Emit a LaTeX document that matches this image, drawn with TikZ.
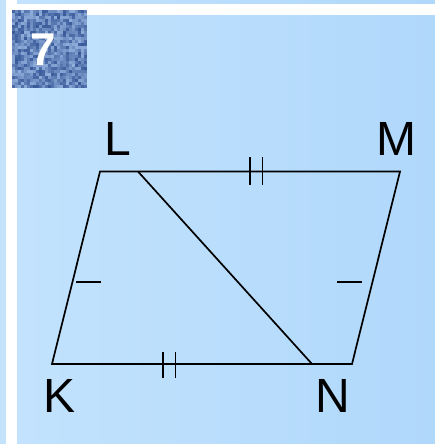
\documentclass[tikz,border=0pt]{standalone}
\usepackage{fontspec}
\setmainfont{Liberation Sans}
\definecolor{bgA}{HTML}{C3E3FD}
\definecolor{bgB}{HTML}{B0D8FB}
\definecolor{texA}{HTML}{2A4C8E}
\definecolor{texB}{HTML}{A9C6EE}
\begin{document}
\begin{tikzpicture}[x=1pt,y=-1pt,
  edge/.style={line width=1.7pt,black},
  tick/.style={line width=1.6pt,black},
  vlabel/.style={font=\fontsize{48}{50}\selectfont,inner sep=0pt,anchor=base west}]
\useasboundingbox (0,0) rectangle (435,444);
% background
\shade[left color=bgA,right color=bgB] (0,0) rectangle (435,444);
\fill[white] (6,0) rectangle (17,444);
\fill[white] (17,4) rectangle (435,15);
% textured number box
\pgfmathsetseed{7}
\foreach \i in {0,...,24}{
  \foreach \j in {0,...,25}{
    \pgfmathsetmacro\p{int(20+70*rnd)}
    \fill[texA!\p!texB] (12+3*\i,10+3*\j) rectangle +(3.05,3.05);
  }
}
\node[font=\fontsize{46}{48}\selectfont\bfseries,text=white,inner sep=0pt,anchor=base] (num) at (43.5,65) {7};
% vertices
\coordinate (K) at (52,364);
\coordinate (L) at (100,171.5);
\coordinate (M) at (400,171.5);
\coordinate (N) at (352,364);
\coordinate (D1) at (138,171.5);
\coordinate (D2) at (312,364);
\draw[edge,line join=miter] (K) -- (L) -- (M) -- (N) -- cycle;
\draw[edge] (D1) -- (D2);
% tick marks
\draw[tick] (250,157) -- (250,185);
\draw[tick] (262.5,157) -- (262.5,185);
\draw[tick] (163,352) -- (163,378);
\draw[tick] (175.5,352) -- (175.5,378);
\draw[tick] (76,282) -- (100.5,282);
\draw[tick] (337,282) -- (362,282);
% labels
\node[vlabel] (lL) at (104.5,155) {L};
\node[vlabel] (lM) at (376.5,155) {M};
\node[vlabel] (lK) at (43.5,412) {K};
\node[vlabel] (lN) at (315.5,412) {N};
\end{tikzpicture}
\end{document}
